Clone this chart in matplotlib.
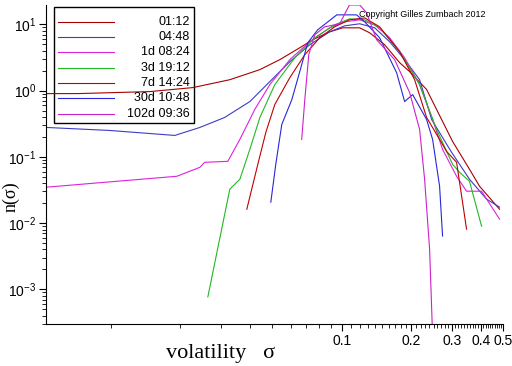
"""Volatility distributions n(sigma) for several time horizons (log-log)."""
import numpy as np
import matplotlib

matplotlib.use("Agg")
import matplotlib.pyplot as plt
from matplotlib.patches import Rectangle
from matplotlib.ticker import FixedLocator, LogLocator, NullFormatter

labels = ["01:12", "04:48", "1d 08:24", "3d 19:12", "7d 14:24", "30d 10:48", "102d 09:36"]
colors = ["#a80000", "#3c3cc8", "#dd22dd", "#22b822", "#c00000", "#2828d8", "#cc22cc"]

sig_0112 = [0.00523, 0.0072, 0.01475, 0.02265, 0.03275, 0.04416, 0.0539, 0.0658, 0.0749,
            0.0887, 0.101, 0.1197, 0.1322, 0.1535, 0.1783, 0.197, 0.2333, 0.271, 0.3023,
            0.358, 0.3957, 0.483]
n_0112 = [0.901, 0.901, 0.966, 1.11, 1.46, 2.07, 2.93, 4.43, 5.85,
          7.71, 8.86, 8.86, 7.45, 4.92, 2.64, 1.93, 1.04, 0.366, 0.171,
          0.0649, 0.036, 0.0162]

sig_0448 = [0.00523, 0.0099, 0.01892, 0.0243, 0.0311, 0.04, 0.0488, 0.0596, 0.0727, 0.0887,
            0.103, 0.1197, 0.139, 0.1614, 0.1874, 0.2176, 0.2453, 0.2994, 0.358, 0.4244, 0.483]
n_0448 = [0.278, 0.25, 0.2105, 0.278, 0.393, 0.683, 1.366, 2.73, 4.92, 7.71,
          9.49, 10.2, 8.86, 5.46, 2.93, 1.46, 0.366, 0.117, 0.0459, 0.023, 0.0174]

sig_1d = [0.00523, 0.0193, 0.0243, 0.0255, 0.0321, 0.0362, 0.042, 0.0488, 0.0596, 0.0727,
          0.0887, 0.103, 0.1197, 0.139, 0.1614, 0.1874, 0.2176, 0.2477, 0.2736, 0.3147,
          0.3476, 0.4037, 0.483]
n_1d = [0.0348, 0.0509, 0.0695, 0.0827, 0.0856, 0.1833, 0.518, 1.23, 2.93, 5.46,
        8.86, 10.9, 11.7, 9.83, 6.27, 3.13, 1.23, 0.366, 0.1297, 0.0509,
        0.0303, 0.0303, 0.0115]

sig_3d = [0.0263, 0.03275, 0.0362, 0.04, 0.0442, 0.0513, 0.0626, 0.0764, 0.0932, 0.108,
          0.1258, 0.146, 0.1783, 0.2176, 0.2578, 0.3023, 0.324, 0.358, 0.4037]
n_3d = [0.00077, 0.0325, 0.0459, 0.13, 0.393, 1.23, 3.13, 6.27, 9.83, 12.1,
        11.7, 8.86, 3.86, 1.23, 0.259, 0.0771, 0.0585, 0.0428, 0.009]

sig_7d = [0.0388, 0.0433, 0.0469, 0.0513, 0.0596, 0.0692, 0.0803, 0.0932, 0.108, 0.1258,
          0.146, 0.1783, 0.207, 0.2333, 0.2656, 0.2847, 0.3147, 0.3476]
n_7d = [0.0162, 0.0771, 0.2335, 0.616, 1.57, 3.48, 6.27, 9.17, 11.7, 12.5,
        9.17, 3.86, 1.46, 0.393, 0.1833, 0.121, 0.0827, 0.0081]

sig_30d = [0.0493, 0.0518, 0.055, 0.0608, 0.0658, 0.0713, 0.0787, 0.0952, 0.1161, 0.1258,
           0.146, 0.173, 0.1874, 0.203, 0.2333, 0.2477, 0.2656, 0.2736]
n_30d = [0.0207, 0.0771, 0.308, 0.73, 1.93, 5.27, 8.27, 13.9, 13.9, 10.9,
         6.27, 1.86, 0.683, 0.871, 0.366, 0.1833, 0.036, 0.00638]

sig_102d = [0.0671, 0.0692, 0.072, 0.0764, 0.0844, 0.098, 0.108, 0.1197, 0.1283, 0.1417,
            0.1696, 0.197, 0.2176, 0.2287, 0.2404, 0.2477]
n_102d = [0.1833, 0.73, 3.48, 6.95, 9.17, 10.2, 19.6, 19.6, 14.9, 5.85,
          2.93, 0.933, 0.259, 0.0459, 0.00406, 0.0002]

series = [(sig_0112, n_0112), (sig_0448, n_0448), (sig_1d, n_1d), (sig_3d, n_3d),
          (sig_7d, n_7d), (sig_30d, n_30d), (sig_102d, n_102d)]

fig = plt.figure(figsize=(5.12, 3.66), dpi=100)
ax = fig.add_axes([0.0898, 0.1148, 0.8926, 0.8716])

for (x, y), c in zip(series, colors):
    ax.plot(x, y, "-", color=c, lw=0.8)

ax.set_xscale("log")
ax.set_yscale("log")
ax.set_xlim(0.00523, 0.5)
ax.set_ylim(3e-4, 19.6)

ax.spines["top"].set_visible(False)
ax.spines["right"].set_visible(False)

xmajor = [0.1, 0.2, 0.3, 0.4, 0.5]
ax.xaxis.set_major_locator(FixedLocator(xmajor))
ax.set_xticklabels(["0.1", "0.2", "0.3", "0.4", "0.5"])
xminor = [k / 100 for k in range(1, 10)] + [k / 100 for k in range(11, 50) if k % 10]
ax.xaxis.set_minor_locator(FixedLocator(xminor))
ax.xaxis.set_minor_formatter(NullFormatter())
ax.yaxis.set_major_locator(LogLocator(base=10))
ax.yaxis.set_minor_locator(LogLocator(base=10, subs=np.arange(2, 10)))
ax.yaxis.set_minor_formatter(NullFormatter())
ax.tick_params(which="major", length=5, width=0.8, labelsize=10, pad=2)
ax.tick_params(which="minor", length=3, width=0.6)
for t in ax.get_xticklabels() + ax.get_yticklabels():
    t.set_family("Liberation Sans")

ax.set_xlabel("volatility   \u03c3", family="Liberation Serif", fontsize=16, va="center")
ax.xaxis.set_label_coords(0.381, -0.091)
ax.set_ylabel("n(\u03c3)", family="Liberation Serif", fontsize=13, va="center")
ax.yaxis.set_label_coords(-0.0766, 0.398)

ax.text(0.685, 0.969, "Copyright Gilles Zumbach 2012", transform=ax.transAxes,
        fontsize=6.5, family="Liberation Sans", va="center", ha="left")

# hand-drawn legend: short line on the left, label right-aligned
ax.add_patch(Rectangle((0.0175, 0.630), 0.3065, 0.364, transform=ax.transAxes,
                       fill=False, edgecolor="black", lw=1.0, clip_on=False))
rows = [0.947, 0.900, 0.853, 0.803, 0.755, 0.708, 0.658]
for yy, lab, c in zip(rows, labels, colors):
    ax.plot([0.026, 0.149], [yy, yy], color=c, lw=0.8, transform=ax.transAxes, clip_on=False)
    ax.text(0.315, yy, lab, transform=ax.transAxes, ha="right", va="center",
            fontsize=9, family="Liberation Sans")

fig.savefig("out.png", dpi=100)
